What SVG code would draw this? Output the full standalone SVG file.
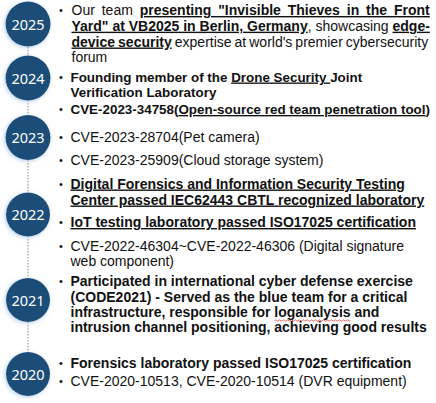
<svg xmlns="http://www.w3.org/2000/svg" width="436" height="403" viewBox="0 0 436 403">
<defs>
<style>
.t{font-family:"Liberation Sans",Arial,sans-serif;font-size:14px;fill:#111}
.b{font-weight:bold}
.u{text-decoration:underline}
.s{font-size:13.4px}
.bl{font-family:"Liberation Sans",Arial,sans-serif;font-size:11px;fill:#111;text-anchor:middle}
.yr{font-family:"Noto Sans",sans-serif;font-size:14.5px;fill:#fff;text-anchor:middle}
.c{fill:#1f4e79;filter:url(#glow)}
.con{stroke:#b0b0b0;stroke-width:1.5;stroke-dasharray:1.5 1.5;fill:none}
</style>
<filter id="glow" x="-40%" y="-40%" width="180%" height="180%">
<feDropShadow dx="-1" dy="1" stdDeviation="2" flood-color="#9dc3e6" flood-opacity="0.8"/>
</filter>
</defs>
<rect width="436" height="403" fill="#fff"/>
<g id="connectors">
<line class="con" x1="28" y1="47" x2="28" y2="55"/>
<line class="con" x1="28" y1="100" x2="28" y2="115"/>
<line class="con" x1="28" y1="160" x2="28" y2="193"/>
<line class="con" x1="28" y1="236" x2="28" y2="278"/>
<line class="con" x1="28" y1="322" x2="28" y2="352"/>
</g>
<g id="y2025">
<circle class="c" cx="28" cy="24" r="22.5"/>
<text class="yr" x="28" y="29.5">2025</text>
<text class="bl" x="61" y="14">•</text>
<text class="t" x="71.5" y="15" word-spacing="3">Our team <tspan class="b u">presenting "Invisible Thieves in the Front</tspan></text>
<text class="t" x="71.5" y="30.7"><tspan class="b u">Yard" at VB2025 in Berlin, Germany</tspan>, showcasing <tspan class="b u">edge-</tspan></text>
<text class="t" x="71.5" y="46.5" word-spacing="-0.9"><tspan class="b u">device security</tspan> expertise at world's premier cybersecurity</text>
<text class="t" x="71.5" y="62">forum</text>
</g>
<g id="y2024">
<circle class="c" cx="28" cy="78" r="22.5"/>
<text class="yr" x="28" y="83.5">2024</text>
<text class="bl" x="61" y="80.5">•</text>
<text class="t b s" x="70.5" y="81.5">Founding member of the <tspan class="u">Drone Security </tspan>Joint</text>
<text class="t b s" x="70.5" y="97">Verification Laboratory</text>
</g>
<g id="y2023">
<circle class="c" cx="28" cy="137.5" r="22.5"/>
<text class="yr" x="28" y="143">2023</text>
<text class="bl" x="61" y="113">•</text>
<text class="t b s" x="70.5" y="114">CVE-2023-34758(<tspan class="u">Open-source red team penetration tool</tspan>)</text>
<text class="bl" x="61" y="140.5">•</text>
<text class="t" x="70.5" y="141.5">CVE-2023-28704(Pet camera)</text>
<text class="bl" x="61" y="164">•</text>
<text class="t" x="70.5" y="165">CVE-2023-25909(Cloud storage system)</text>
</g>
<g id="y2022">
<circle class="c" cx="28" cy="214.5" r="22"/>
<text class="yr" x="28" y="220">2022</text>
<text class="bl" x="61" y="187.5">•</text>
<text class="t b u" x="70.5" y="188.5">Digital Forensics and Information Security Testing</text>
<text class="t b u" x="70.5" y="204.5">Center passed IEC62443 CBTL recognized laboratory</text>
<text class="bl" x="61" y="226">•</text>
<text class="t b u" x="70.5" y="227">IoT testing laboratory passed ISO17025 certification</text>
<text class="bl" x="61" y="249.7">•</text>
<text class="t" x="70.5" y="250.7">CVE-2022-46304~CVE-2022-46306 (Digital signature</text>
<text class="t" x="70.5" y="265.5">web component)</text>
</g>
<g id="y2021">
<circle class="c" cx="28" cy="300" r="22"/>
<text class="yr" x="28" y="305.5">2021</text>
<text class="bl" x="61" y="285">•</text>
<text class="t b" x="70.5" y="286">Participated in international cyber defense exercise</text>
<text class="t b" x="70.5" y="301.5">(CODE2021) - Served as the blue team for a critical</text>
<text class="t b" x="70.5" y="316.7">infrastructure, responsible for loganalysis and</text>
<path d="M274.5 320.5 q1 -1.2 2 0 t2 0 t2 0 t2 0 t2 0 t2 0 t2 0 t2 0 t2 0 t2 0 t2 0 t2 0 t2 0 t2 0 t2 0 t2 0 t2 0 t2 0 t2 0 t2 0 t2 0 t2 0 t2 0 t2 0 t2 0 t2 0 t2 0 t2 0 t2 0 t2 0 t2 0 t2 0 t2 0 t2 0 t2 0 t2 0 t2 0 t2 0" fill="none" stroke="#e03030" stroke-width="0.8"/>
<text class="t b" x="70.5" y="331.7">intrusion channel positioning, achieving good results</text>
</g>
<g id="y2020">
<circle class="c" cx="28" cy="374" r="22"/>
<text class="yr" x="28" y="379.5">2020</text>
<text class="bl" x="61" y="367">•</text>
<text class="t b" x="70.5" y="368">Forensics laboratory passed ISO17025 certification</text>
<text class="bl" x="61" y="385">•</text>
<text class="t" x="70.5" y="386">CVE-2020-10513, CVE-2020-10514 (DVR equipment)</text>
</g>
</svg>
